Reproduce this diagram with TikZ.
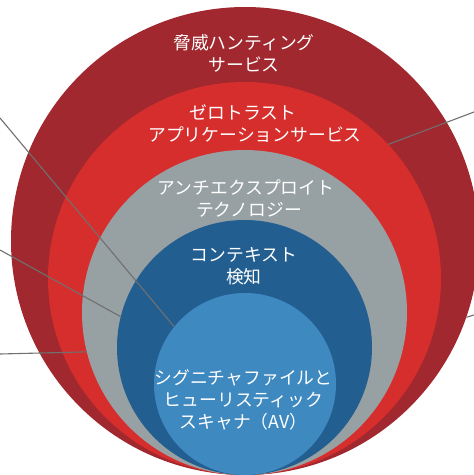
\documentclass[tikz,border=0pt]{standalone}
\usepackage{fontspec}
\setmainfont{Noto Sans CJK JP}
\definecolor{cdred}{RGB}{160,40,46}
\definecolor{cred}{RGB}{214,46,44}
\definecolor{cgray}{RGB}{151,160,163}
\definecolor{cdblue}{RGB}{35,94,145}
\definecolor{clblue}{RGB}{62,137,192}
\definecolor{cline}{RGB}{112,112,112}
\begin{document}
\begin{tikzpicture}[x=1pt,y=-1pt,
  ring/.style={circle,inner sep=0pt,draw=none},
  lbl/.style={text=white,align=center,font=\fontsize{17.8}{22}\selectfont,inner sep=0pt},
  leader/.style={draw=cline,line width=1.1pt}]
\useasboundingbox (0,0) rectangle (474,475);
\begin{scope}
\clip (0,0) rectangle (474,475);
\node[ring,fill=cdred,minimum size=468pt] (c1) at (245,241) {};
\node[ring,fill=cred,minimum size=393pt] (c2) at (244.5,278.5) {};
\node[ring,fill=cgray,minimum size=325pt] (c3) at (244.5,312.5) {};
\node[ring,fill=cdblue,minimum size=255pt] (c4) at (244.5,347.5) {};
\node[ring,fill=clblue,minimum size=182pt] (c5) at (245,384) {};
\end{scope}
\node[lbl] (t1) at (244,53.5) {脅威ハンティング\\サービス};
\node[lbl] (t2) at (255,124) {ゼロトラスト\hspace*{24pt}\\アプリケーションサービス};
\node[lbl] (t3) at (246,199) {アンチエクスプロイト\hspace*{0pt}\\テクノロジー\hspace*{-6pt}};
\node[lbl] (t4) at (244,266) {コンテキスト\\検知};
\node[lbl] (t5) at (243.5,399.5) {シグニチャファイルと\\ヒューリスティック\\スキャナ（AV）};
\coordinate (e1) at (0,118);
\coordinate (e2) at (0,250);
\coordinate (e3) at (0,354);
\coordinate (e4) at (474,112);
\coordinate (e5) at (474,315);
\draw[leader] (e1) -- (c5.141);
\draw[leader] (e2) -- (c4.166);
\draw[leader] (e3) -- (c3.194.6);
\draw[leader] (e4) -- (c2.43.8);
\draw[leader] (e5) -- (c1.341.6);
\end{tikzpicture}
\end{document}
